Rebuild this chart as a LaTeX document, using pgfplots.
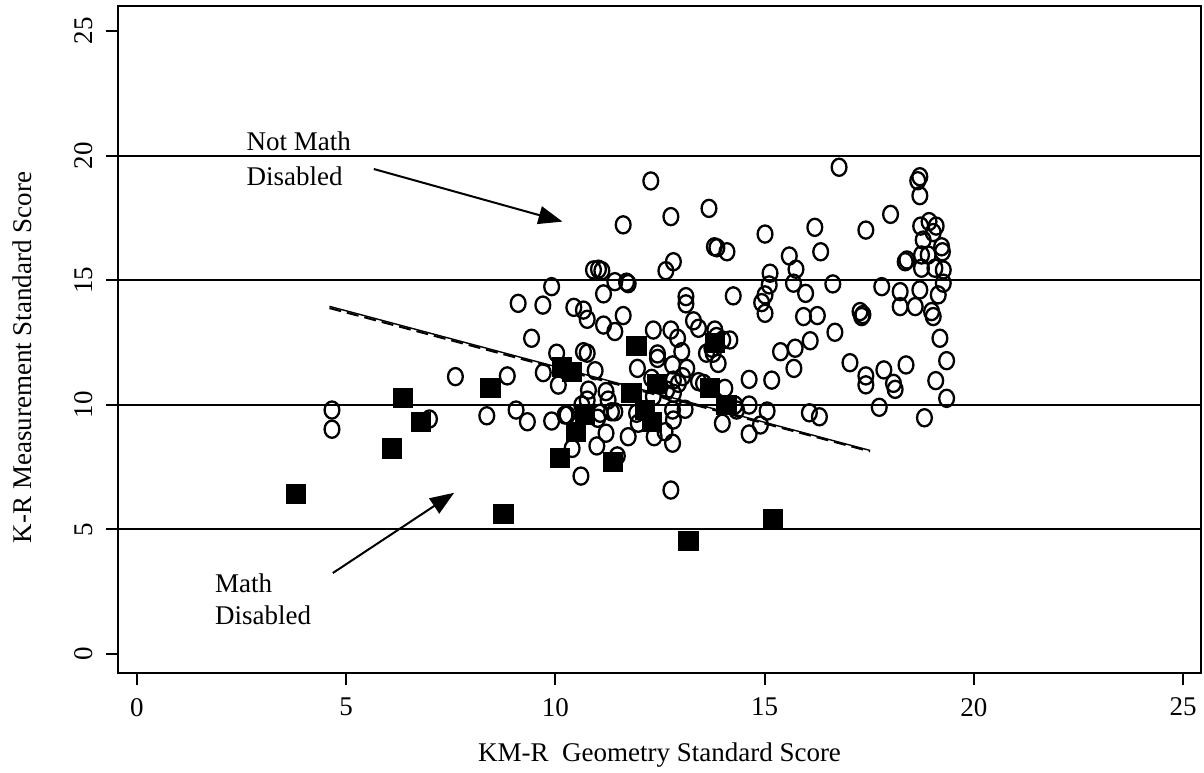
\documentclass[border=0pt]{standalone}
\usepackage{fontspec}
\setmainfont{Liberation Serif}
\usepackage{pgfplots}
\pgfplotsset{compat=1.18}
\usetikzlibrary{arrows.meta}
\newcommand{\lf}{\fontsize{13.5}{16}\selectfont}
\begin{document}
\begin{tikzpicture}
\useasboundingbox (-59pt,-49.5pt) rectangle (543pt,336.5pt);
\begin{axis}[
 at={(0,0)}, anchor=south west,
 scale only axis, width=541.5pt, height=333.5pt,
 xmin=-0.454, xmax=25.43, ymin=-0.76, ymax=26.0,
 xtick={0,5,...,25}, ytick={0,5,...,25},
 tick align=outside, xtick pos=left, ytick pos=left,
 major tick length=6pt,
 every tick/.style={black, line width=1pt},
 axis line style={line width=1pt},
 /pgf/number format/assume math mode=true,
 tick label style={font=\lf},
 yticklabel style={rotate=90, anchor=south},
 yticklabel shift=3pt,
 xticklabel shift=3pt,
 xlabel={KM-R\ \ Geometry Standard Score},
 ylabel={K-R Measurement Standard Score},
 label style={font=\lf},
 xlabel style={at={(axis description cs:0.5,-0.123)}, anchor=center},
 ylabel style={at={(axis description cs:-0.0886,0.473)}, anchor=center},
 clip=false,
]
% reference lines
\addplot[black, line width=1pt] coordinates {(-0.454,5) (25.43,5)};
\addplot[black, line width=1pt] coordinates {(-0.454,10) (25.43,10)};
\addplot[black, line width=1pt] coordinates {(-0.454,15) (25.43,15)};
\addplot[black, line width=1pt] coordinates {(-0.454,20) (25.43,20)};
% not math disabled (circles)
\addplot[only marks, mark=o, mark size=3.7pt, mark options={black, line width=1.15pt, yscale=1.16}] coordinates {
(4.66,9.79) (4.66,9.02) (6.99,9.43) (7.61,11.13) (8.36,9.56) (8.85,11.16)
(12.28,18.98) (11.62,17.22) (12.76,17.55) (13.67,17.88) (13.80,16.34) (13.86,16.30) (14.10,16.14) (12.82,15.74) (12.64,15.38) (10.91,15.41) (11.03,15.44) (11.11,15.38) (11.42,14.94) (11.70,14.92) (11.74,14.86) (9.91,14.74) (11.15,14.45) (9.11,14.07) (9.70,14.00) (10.44,13.91) (10.67,13.80) (10.76,13.43) (11.62,13.58) (11.15,13.20) (11.42,12.94) (13.12,14.34) (13.12,14.05) (13.30,13.37) (13.42,13.07) (14.25,14.37) (9.43,12.67) (12.34,13.00) (12.76,13.00) (12.92,12.67) (10.03,12.07) (10.67,12.13) (10.76,12.07) (12.44,12.04) (13.02,12.13) (13.81,13.00) (14.17,12.60) (14.00,12.60) (13.85,12.74) (13.74,12.27) (13.61,12.07)
(16.78,19.53) (18.71,19.15) (18.66,18.99) (18.71,18.39) (18.01,17.64) (16.20,17.12) (15.01,16.85) (17.42,17.01) (18.73,17.17) (18.93,17.35) (19.10,17.17) (19.03,16.91) (18.79,16.61) (19.23,16.34) (19.25,16.14) (16.34,16.14) (15.59,15.97) (15.75,15.44) (15.13,15.28) (18.40,15.81) (18.36,15.74) (18.75,16.01) (18.91,16.01) (18.75,15.48) (19.07,15.48) (19.27,15.41) (15.11,14.81) (15.01,14.41) (14.93,14.10) (15.01,13.67) (15.69,14.88) (15.98,14.47) (16.63,14.85) (17.80,14.74) (18.24,14.54) (18.71,14.61) (19.15,14.41) (19.27,14.88) (18.24,13.94) (18.60,13.94) (18.99,13.74) (19.03,13.54) (15.93,13.54) (16.26,13.58) (17.28,13.74) (17.32,13.54) (17.35,13.62) (16.68,12.91) (16.09,12.57) (15.73,12.27) (15.38,12.13) (19.19,12.67)
(15.70,11.46) (14.63,11.02) (15.17,10.99) (17.04,11.69) (17.42,11.16) (17.42,10.80) (17.85,11.40) (18.08,10.86) (18.12,10.62) (18.38,11.60) (19.35,11.77) (19.09,10.97) (19.35,10.26) (17.74,9.90) (18.82,9.48) (16.07,9.68) (16.31,9.52) (14.63,9.99) (15.06,9.75) (14.90,9.19) (14.63,8.83) (14.29,9.99) (14.33,9.79)
(9.71,11.29) (10.07,10.79) (10.95,11.37) (10.79,10.59) (10.76,10.19) (11.21,10.53) (11.26,10.19) (11.34,9.72) (11.42,9.72) (9.06,9.79) (9.33,9.32) (9.91,9.35) (10.23,9.59) (10.28,9.59) (11.01,9.46) (11.07,9.66) (11.21,8.86) (10.99,8.35) (10.40,8.25) (11.48,7.95) (10.61,7.14) (11.74,8.72) (11.96,11.46) (12.44,11.86) (12.80,11.60) (13.14,11.46) (13.04,11.13) (12.94,10.86) (12.82,10.99) (13.42,10.93) (13.54,10.86) (12.30,11.06) (12.66,10.59) (12.82,10.46) (13.77,12.07) (13.89,11.66) (14.05,10.66) (12.34,10.33) (11.94,9.66) (11.98,9.26) (12.80,9.79) (12.82,9.39) (13.10,9.82) (12.62,8.92) (12.36,8.72) (12.80,8.46) (13.99,9.26) (12.76,6.58) (10.63,9.99)
};
% math disabled (filled squares)
\addplot[only marks, mark=square*, mark size=4.8pt, mark options={black, fill=black, line width=0pt}] coordinates {
(3.80,6.41) (6.09,8.25) (6.36,10.26) (6.79,9.30) (8.45,10.69) (8.76,5.61) (10.15,11.53) (10.39,11.33) (10.71,9.59) (10.49,8.92) (10.11,7.85) (11.38,7.72) (11.82,10.46) (11.94,12.36) (12.42,10.82) (12.14,9.79) (12.30,9.32) (13.70,10.66) (13.81,12.47) (14.09,9.99) (13.18,4.53) (15.21,5.42)
};
% fitted lines
\addplot[black, line width=0.7pt] coordinates {(4.60,13.95) (17.52,8.17)};
\addplot[black, line width=1pt, dash pattern=on 6pt off 3pt] coordinates {(4.60,13.88) (17.52,8.13)};
% annotations
\node[anchor=west, inner sep=0pt, font=\lf] at (axis cs:2.61,20.59) {Not Math};
\node[anchor=west, inner sep=0pt, font=\lf] at (axis cs:2.61,19.18) {Disabled};
\node[anchor=west, inner sep=0pt, font=\lf] at (axis cs:1.86,2.85) {Math};
\node[anchor=west, inner sep=0pt, font=\lf] at (axis cs:1.86,1.56) {Disabled};
\draw[line width=1pt, -{Triangle[length=12pt,width=9pt]}] (axis cs:5.66,19.46) -- (axis cs:10.17,17.35);
\draw[line width=1pt, -{Triangle[length=12pt,width=9pt]}] (axis cs:4.68,3.25) -- (axis cs:7.58,6.47);
\end{axis}
\end{tikzpicture}
\end{document}
